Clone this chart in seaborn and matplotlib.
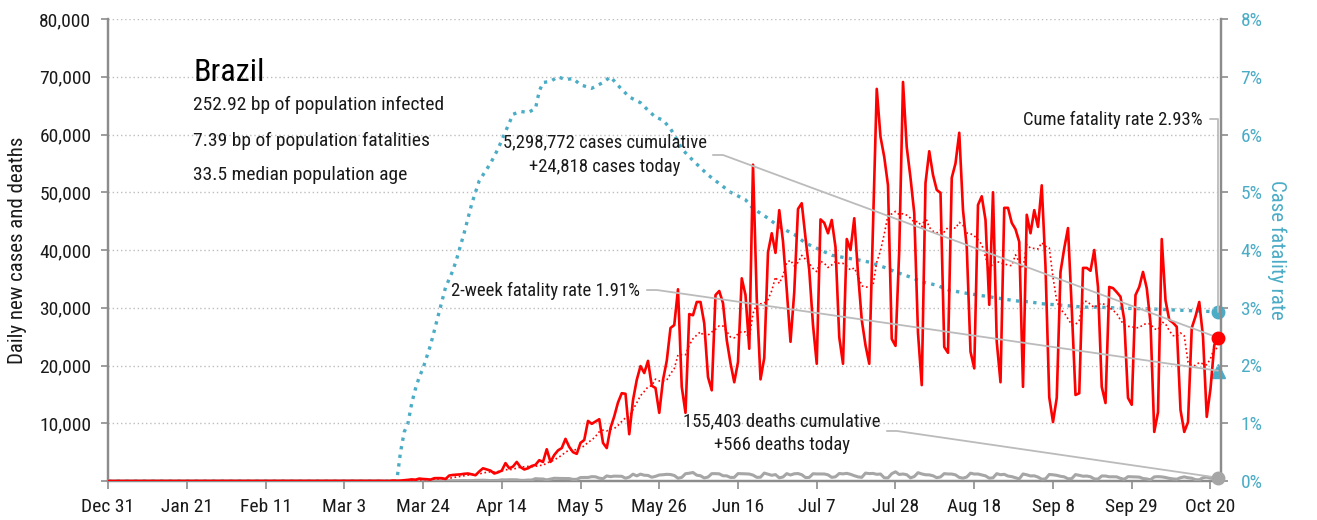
import os
import numpy as np
import pandas as pd
import matplotlib
matplotlib.use("Agg")
import matplotlib.pyplot as plt
from matplotlib import font_manager
import seaborn as sns

# ---------------- data (day 0 = Dec 31) ----------------
early_cases = [1, 0, 0, 1, 0, 0, 0, 1, 0, 5, 5, 6, 6, 0, 0, 19, 21, 0, 0, 77,
               34, 57, 137, 193, 283, 224, 418, 345, 310, 232, 482, 502, 487, 352]  # days 57-90
main_cases = [
    950, 1050, 1100, 1150, 1250, 1300, 1150, 1000, 1650, 2200,          # 91-100
    2000, 1800, 1300, 1500, 1800, 3100, 2200, 2500, 3300, 2400,         # 101-110
    2000, 2200, 2600, 2800, 3600, 3300, 5500, 3300, 4500, 5300,         # 111-120
    5700, 7300, 5900, 5000, 4700, 6600, 7100, 10400, 9900, 10300,       # 121-130
    10700, 6600, 5700, 9200, 11200, 13600, 15200, 15100, 8100, 14000,   # 131-140
    17500, 19900, 18700, 20800, 16500, 16100, 11800, 17500, 20800, 26500,  # 141-150
    27000, 33200, 16300, 11800, 28900, 28700, 31000, 31000, 27300, 18000,  # 151-160
    15700, 32200, 32900, 30800, 24400, 20400, 17100, 20600, 35100, 32200,  # 161-170
    22900, 54771, 31600, 17600, 21300, 39600, 42900, 39500, 46900, 41500,  # 171-180
    33100, 24100, 32700, 47100, 48100, 42100, 36500, 27000, 20300, 45300,  # 181-190
    44700, 42900, 45200, 40500, 24900, 20300, 41900, 40000, 45500, 36000,  # 191-200
    27900, 23500, 20300, 44000, 67900, 59600, 56100, 51200, 24600, 23400,  # 201-210
    40000, 69100, 57800, 52500, 46400, 25600, 16600, 51600, 57100, 53000,  # 211-220
    50400, 49900, 23200, 22200, 52500, 55000, 60300, 46900, 40500, 22400,  # 221-230
    19500, 47800, 49300, 45200, 30500, 50000, 24100, 17100, 47300, 47300,  # 231-240
    44700, 43600, 41400, 16300, 46100, 42900, 46900, 44000, 51200, 37100,  # 241-250
    14500, 10200, 14400, 36200, 40300, 43800, 29900, 14900, 15200, 36900,  # 251-260
    36900, 36400, 40000, 33600, 16300, 13500, 33600, 33400, 32700, 31900,  # 261-270
    27900, 14400, 13200, 32200, 33600, 36200, 33400, 27400, 8500, 11900,   # 271-280
    41900, 31300, 27900, 27400, 26700, 12300, 8500, 10200, 26500, 28500,   # 281-290
    31000, 25000, 11100, 16000, 23500, 24818]                              # 291-296

early_deaths = [0] * 20 + [1, 3, 2, 5, 7, 7, 9, 12, 11, 20, 15, 22, 22, 23]  # days 57-90
main_deaths = [
    42, 39, 58, 60, 73, 54, 67, 114, 133, 141,
    115, 68, 99, 105, 204, 188, 217, 213, 206, 115,
    113, 166, 165, 407, 357, 346, 189, 338, 474, 449,
    435, 428, 421, 275, 296, 600, 615, 610, 751, 730,
    496, 396, 881, 749, 844, 824, 816, 485, 674, 1179,
    888, 1188, 1001, 965, 653, 807, 1039, 1086, 1156, 1124,
    956, 480, 623, 1262, 1349, 1473, 1005, 904, 525, 679,
    1272, 1274, 1239, 909, 892, 612, 627, 1282, 1269, 1238,
    1206, 1022, 641, 654, 1374, 1185, 990, 1109, 552, 692,
    1280, 1038, 1252, 1290, 1091, 602, 620, 1254, 1223, 1220,
    1214, 1071, 631, 733, 1300, 1233, 1322, 1163, 921, 716,
    632, 1367, 1284, 1311, 1156, 1211, 555, 541, 1262, 1595,
    1129, 1212, 1088, 541, 772, 1437, 1226, 1079, 1060, 905,
    572, 703, 1274, 1212, 1204, 1060, 620, 494, 684, 1352,
    1204, 1212, 1054, 892, 494, 551, 1271, 1085, 1156, 855,
    758, 553, 366, 1215, 1075, 874, 899, 682, 310, 366,
    1136, 1075, 983, 814, 717, 381, 411, 1113, 983, 829,
    858, 739, 363, 335, 869, 863, 729, 734, 717, 452,
    295, 754, 728, 708, 678, 432, 363, 203, 710, 754,
    713, 609, 461, 366, 309, 570, 716, 563, 484, 230,
    201, 571, 666, 497, 461, 566]

cfr_days = [0, 77, 78, 79, 80, 81, 82, 83, 84, 86, 88, 90, 92, 93, 95, 97, 99, 101,
            102, 104, 106, 108, 110, 112, 114, 115, 116, 118, 120, 122, 124, 126,
            129, 132, 134, 136, 139, 142, 144, 146, 148, 150, 152, 153, 156, 160,
            163, 166, 170, 172, 176, 179, 183, 186, 190, 193, 197, 200, 203, 207,
            210, 214, 217, 221, 224, 228, 232, 235, 239, 242, 246, 249, 253, 257,
            260, 264, 271, 278, 285, 292, 296]
cfr_pct = [0.0, 0.0, 0.5, 0.85, 1.0, 1.35, 1.6, 1.8, 1.95, 2.35, 2.85, 3.35, 3.65,
           3.85, 4.3, 4.8, 5.2, 5.4, 5.5, 5.75, 6.05, 6.35, 6.4, 6.38, 6.45, 6.75,
           6.9, 6.92, 7.0, 6.95, 6.97, 6.86, 6.8, 6.9, 7.0, 6.85, 6.65, 6.55, 6.42,
           6.3, 6.25, 6.1, 5.88, 5.75, 5.55, 5.3, 5.15, 5.0, 4.87, 4.72, 4.55, 4.4,
           4.27, 4.12, 4.0, 3.91, 3.86, 3.83, 3.79, 3.7, 3.62, 3.53, 3.45, 3.39,
           3.31, 3.26, 3.22, 3.19, 3.15, 3.12, 3.1, 3.07, 3.05, 3.03, 3.01, 3.01,
           2.99, 2.98, 2.96, 2.94, 2.93]

two_week_cfr = 1.91
cum_cases_text = "5,298,772 cases cumulative"
today_cases_text = "+24,818 cases today"
cum_deaths_text = "155,403 deaths cumulative"
today_deaths_text = "+566 deaths today"
country = "Brazil"
info_lines = ["252.92 bp of population infected",
              "7.39 bp of population fatalities",
              "33.5 median population age"]
tick_days = [0, 21, 42, 63, 84, 105, 126, 147, 168, 189, 210, 231, 252, 273, 294]
tick_labels = ["Dec 31", "Jan 21", "Feb 11", "Mar 3", "Mar 24", "Apr 14", "May 5",
               "May 26", "Jun 16", "Jul 7", "Jul 28", "Aug 18", "Sep 8", "Sep 29", "Oct 20"]

cases = [0] * 57 + early_cases + main_cases
deaths = [0] * 57 + early_deaths + main_deaths
days = np.arange(len(cases))
df = pd.DataFrame({"day": days, "cases": cases, "deaths": deaths})
df["avg"] = df["cases"].rolling(7, min_periods=1).mean()
cfr_df = pd.DataFrame({"day": cfr_days, "cfr": cfr_pct})
last = int(days[-1])

# ---------------- style ----------------
sns.set_theme(style="white")


def pick_narrow():
    entries = font_manager.fontManager.ttflist
    def ok_regular(f):
        w = f.weight
        return (w in (400, "normal", "regular", "book")) and f.style == "normal"
    prefs = ["liberation sans narrow", "roboto condensed", "open sans condensed",
             "noto sans", "dejavu sans", "liberation sans", "roboto", "open sans", "lato"]
    found = []
    for f in entries:
        fn = os.path.basename(f.fname).lower()
        nm = f.name.lower()
        narrow = ("narrow" in nm or "condensed" in nm or "narrow" in fn
                  or ("condensed" in fn and "semicondensed" not in fn)
                  or str(f.stretch) in ("condensed", "extra-condensed"))
        if narrow and ok_regular(f):
            found.append(f)
    for p in prefs:
        for f in found:
            if f.name.lower().startswith(p):
                return f
    return found[0] if found else None


nf = pick_narrow()
if nf is not None:
    plt.rcParams["font.family"] = [nf.name, "DejaVu Sans"]
    st = nf.stretch if isinstance(nf.stretch, str) else "normal"
    if st not in ("normal", "medium"):
        plt.rcParams["font.stretch"] = st
    NARROW = True
else:
    plt.rcParams["font.family"] = ["DejaVu Sans"]
    NARROW = False

FS_INFO = 14 if NARROW else 12.5
FS = 13.4 if NARROW else 12
TFS = 14 if NARROW else 12
LFS = 15 if NARROW else 13

RED = "#FF0000"
BLUE = "#4BACC6"
GRAY = "#A6A6A6"
AXC = "#8C8C8C"
TXT = "#1a1a1a"

fig = plt.figure(figsize=(13.17, 5.20), dpi=100)
ax = fig.add_axes([108 / 1317, 1 - 481 / 520, (1221 - 108) / 1317, (481 - 19) / 520])
ax2 = ax.twinx()

# grid
for v in range(10000, 80001, 10000):
    ax.axhline(v, color="#BDBDBD", lw=1.0, ls=(0, (1, 2)), zorder=0)

# lines
sns.lineplot(data=df, x="day", y="deaths", ax=ax, color=GRAY, linewidth=2.2, zorder=3)
sns.lineplot(data=df, x="day", y="avg", ax=ax, color=RED, linewidth=1.2, zorder=4,
             linestyle=(0, (1, 1.6)))
sns.lineplot(data=df, x="day", y="cases", ax=ax, color=RED, linewidth=1.9, zorder=5)
sns.lineplot(data=cfr_df, x="day", y="cfr", ax=ax2, color=BLUE, linewidth=2.4,
             linestyle=(0, (1, 1.6)), zorder=4)

# end markers
ax.plot([last], [cases[-1]], "o", color=RED, ms=9, clip_on=False, zorder=8)
ax.plot([last], [deaths[-1]], "o", color=GRAY, ms=9, clip_on=False, zorder=8)
ax2.plot([last], [cfr_pct[-1]], "o", color=BLUE, ms=9, clip_on=False, zorder=8)
ax2.plot([last], [two_week_cfr], "^", color=BLUE, ms=10, clip_on=False, zorder=8)

# axes
ax.set_xlim(0, 296.8)
ax.set_ylim(0, 80000)
ax2.set_ylim(0, 8)
ax.set_xticks(tick_days)
ax.set_xticklabels(tick_labels)
yt = list(range(0, 80001, 10000))
ax.set_yticks(yt)
ax.set_yticklabels(["" if v == 0 else f"{v:,}" for v in yt])
ax2.set_yticks(range(0, 9))
ax2.set_yticklabels([f"{v}%" for v in range(0, 9)])
ax.set_xlabel("")
ax.set_ylabel("Daily new cases and deaths", fontsize=LFS, color=TXT, va="center")
ax2.set_ylabel("Case fatality rate", fontsize=LFS, color=BLUE, rotation=270, va="center")
ax.yaxis.set_label_coords(-0.0809, 0.5)
ax2.yaxis.set_label_coords(1.0503, 0.5)

for a in (ax, ax2):
    a.spines["top"].set_visible(False)
    for s in ("left", "right", "bottom"):
        a.spines[s].set_color(AXC)
        a.spines[s].set_linewidth(1.6)
ax.tick_params(axis="y", which="both", left=True, length=5, width=1.2, color=AXC,
               labelsize=TFS, labelcolor=TXT, pad=7)
ax.tick_params(axis="x", which="both", bottom=True, length=6, width=1.2, color=AXC,
               labelsize=TFS, labelcolor=TXT, pad=6)
ax2.tick_params(axis="y", right=True, length=5, width=1.2, color=AXC,
                labelsize=TFS, labelcolor=BLUE, pad=9)

# text block
ax.text(22.7, 70700, country, fontsize=23 if NARROW else 19, color="black",
        ha="left", va="center", fontweight="normal")
for line, yv in zip(info_lines, [65100, 58960, 52990]):
    ax.text(22.7, yv, line, fontsize=FS_INFO, color=TXT, ha="left", va="center")

# annotations
LC = "#BBBBBB"
ax.text(132.5, 58700, cum_cases_text, fontsize=FS, color=TXT, ha="center", va="center")
ax.text(132.5, 54370, today_cases_text, fontsize=FS, color=TXT, ha="center", va="center")
ax.plot([161.3, 164.0, last], [56450, 56450, cases[-1]], color=LC, lw=1.3, zorder=6, clip_on=False)

ax.text(141.9, 32900, "2-week fatality rate 1.91%", fontsize=FS, color=TXT, ha="right", va="center")
ax.plot([143.7, 146.4, last], [33070, 33070, two_week_cfr * 10000], color=LC, lw=1.3, zorder=6,
        clip_on=False)

ax.text(179.7, 10390, cum_deaths_text, fontsize=FS, color=TXT, ha="center", va="center")
ax.text(179.7, 6230, today_deaths_text, fontsize=FS, color=TXT, ha="center", va="center")
ax.plot([207.7, 210.4, last], [8660, 8660, deaths[-1]], color=LC, lw=1.3, zorder=6, clip_on=False)

ax.text(292.0, 62510, f"Cume fatality rate {cfr_pct[-1]:.2f}%", fontsize=FS, color=TXT,
        ha="right", va="center")
ax.plot([293.9, last, last], [62680, 62680, cfr_pct[-1] * 10000], color=LC, lw=1.3, zorder=6,
        clip_on=False)

ax.set_zorder(ax2.get_zorder() + 1)
ax.patch.set_visible(False)

fig.savefig("out.png", dpi=100)
